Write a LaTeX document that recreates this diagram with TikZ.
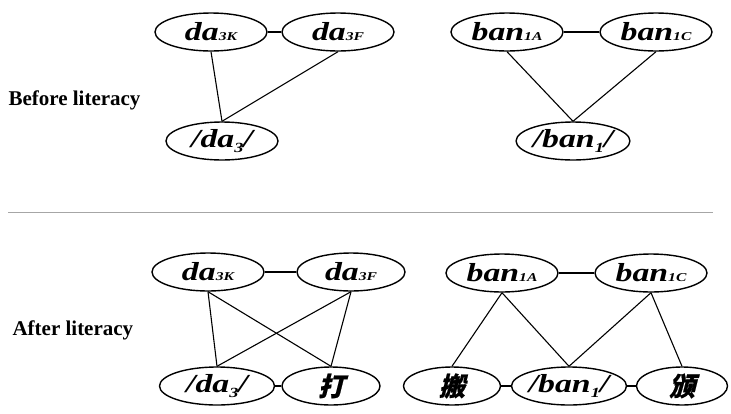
\documentclass[tikz,border=0pt]{standalone}
\usepackage{fontspec}
\setmainfont{Liberation Serif}
\newfontfamily\wordfont[FakeStretch=1.3]{Liberation Serif}
\newfontfamily\hanfont[FakeSlant=0.25,FakeBold=0.6]{Noto Sans CJK SC}
\usetikzlibrary{shapes.geometric}

% tone tags: small on the baseline, or dropped below it
\newcommand{\tone}[1]{{\fontsize{12}{12}\selectfont #1}}
\newcommand{\low}[1]{\raisebox{-5pt}{\fontsize{14}{14}\selectfont #1}}

\tikzset{
  word/.style={draw, ellipse, line width=1.4pt, minimum width=112pt,
    minimum height=38pt, inner sep=0pt,
    font=\wordfont\fontsize{26}{26}\selectfont\bfseries\itshape},
  link/.style={line width=1.1pt},
  stage/.style={anchor=west, font=\fontsize{21}{21}\selectfont\bfseries}
}

\begin{document}
\begin{tikzpicture}[x=1pt, y=-1pt]
            \useasboundingbox (0,0) rectangle (731,413);

            % Before literacy: da
            \node[word] (K1) at (211,32) {da\tone{3K}};
            \node[word] (F1) at (338,32) {da\tone{3F}};
            \node[word] (da1) at (222,141) {/da\low{3}/};
            \draw[link] (K1) -- (F1);
            \draw[link] (K1.south) -- (da1.north);
            \draw[link] (F1.south) -- (da1.north);

            % Before literacy: ban
            \node[word] (A1) at (507,32) {ban\tone{1A}};
            \node[word] (C1) at (656,32) {ban\tone{1C}};
            \node[word] (ban1) at (573,141) {/ban\low{1}/};
            \draw[link] (A1) -- (C1);
            \draw[link] (A1.south) -- (ban1.north);
            \draw[link] (C1.south) -- (ban1.north);

            \node[stage] (before) at (5,100) {Before literacy};
            \draw[gray!70, line width=0.7pt] (8,212) -- (713,212);
            \node[stage] (after) at (9,330) {After literacy};

            % After literacy: da and its character
            \node[word] (K2) at (208,272) {da\tone{3K}};
            \node[word, minimum width=108pt] (F2) at (351,272) {da\tone{3F}};
            \node[word, minimum width=115pt] (da2) at (217,386) {/da\low{3}/};
            \node[word, minimum width=98pt] (ta2) at (331,386) {\hanfont 打};
            \draw[link] (K2) -- (F2);
            \draw[link] (da2) -- (ta2);
            \draw[link] (K2.south) -- (da2.north);
            \draw[link] (K2.south) -- (ta2.north);
            \draw[link] (F2.south) -- (da2.north);
            \draw[link] (F2.south) -- (ta2.north);

            % After literacy: ban and its two characters
            \node[word] (A2) at (502,273) {ban\tone{1A}};
            \node[word] (C2) at (651,273) {ban\tone{1C}};
            \node[word, minimum width=97pt] (bn2) at (452,386) {\hanfont 搬};
            \node[word, minimum width=115pt] (ban2) at (569,386) {/ban\low{1}/};
            \node[word, minimum width=91pt] (bp2) at (682,386) {\hanfont 颁};
            \draw[link] (A2) -- (C2);
            \draw[link] (bn2) -- (ban2);
            \draw[link] (ban2) -- (bp2);
            \draw[link] (A2.south) -- (bn2.north);
            \draw[link] (A2.south) -- (ban2.north);
            \draw[link] (C2.south) -- (ban2.north);
            \draw[link] (C2.south) -- (bp2.north);
        \end{tikzpicture}
\end{document}
